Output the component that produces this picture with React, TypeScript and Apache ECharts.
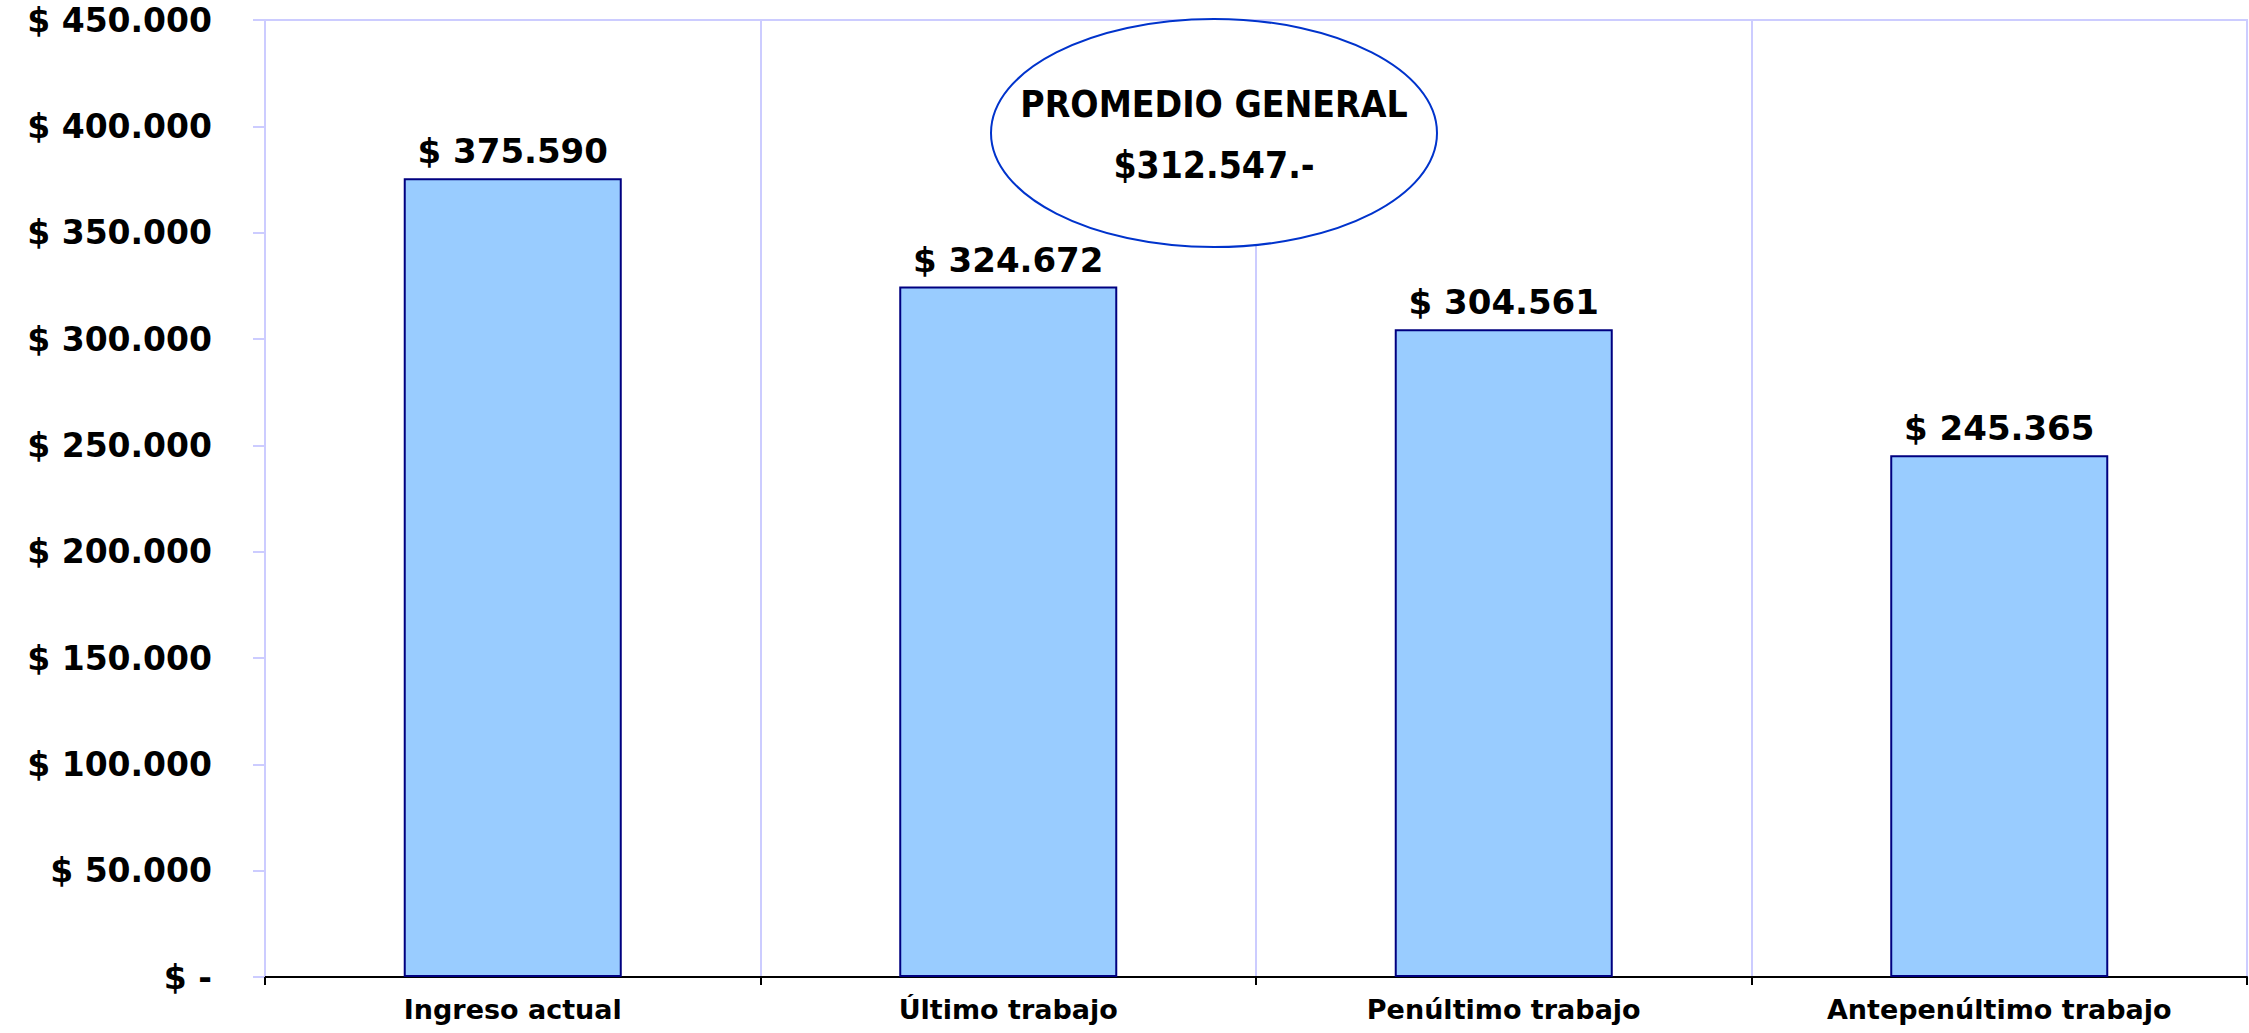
import React, { useEffect, useRef } from "react";
import * as echarts from "echarts";

const categories = ["Ingreso actual", "Último trabajo", "Penúltimo trabajo", "Antepenúltimo trabajo"];
const values = [375590, 324672, 304561, 245365];
const yMin = 0;
const yMax = 450000;
const yInterval = 50000;
const noteTitle = "PROMEDIO GENERAL";
const noteValue = "$312.547.-";

const fmt = (v: number) => {
  if (v === 0) return "$ -";
  return "$ " + String(Math.round(v)).replace(/\B(?=(\d{3})+(?!\d))/g, ".");
};

export default function App() {
  const ref = useRef<HTMLDivElement>(null);
  useEffect(() => {
    if (!ref.current) return;
    const chart = echarts.init(ref.current, null, { renderer: "svg" });
    const numFont = "'DejaVu Sans', Verdana, sans-serif";
    chart.setOption({
      animation: false,
      backgroundColor: "#ffffff",
      grid: {
        left: 265,
        right: 2,
        top: 20,
        bottom: 56,
        show: true,
        borderColor: "#ccccff",
        borderWidth: 2,
      },
      xAxis: {
        type: "category",
        data: categories,
        axisLine: { show: true, lineStyle: { color: "#000000", width: 2 } },
        axisTick: { show: true, length: 8, lineStyle: { color: "#000000", width: 2 } },
        splitLine: { show: true, lineStyle: { color: "#ccccff", width: 2 } },
        axisLabel: {
          color: "#000000",
          fontFamily: numFont,
          fontWeight: "bold",
          fontSize: 27,
          lineHeight: 28,
          margin: 18,
        },
      },
      yAxis: {
        type: "value",
        min: yMin,
        max: yMax,
        interval: yInterval,
        axisLine: { show: true, lineStyle: { color: "#ccccff", width: 2 } },
        axisTick: { show: true, length: 12, lineStyle: { color: "#ccccff", width: 2 } },
        splitLine: { show: false },
        axisLabel: {
          color: "#000000",
          fontFamily: numFont,
          fontWeight: "bold",
          fontSize: 33,
          lineHeight: 30,
          margin: 53,
          formatter: (v: number) => fmt(v),
        },
      },
      series: [
        {
          type: "bar",
          data: values,
          barWidth: "44%",
          itemStyle: { color: "#99ccff", borderColor: "#000080", borderWidth: 2 },
          label: {
            show: true,
            position: "top",
            distance: 10,
            color: "#000000",
            fontFamily: numFont,
            fontWeight: "bold",
            fontSize: 34,
            formatter: (p: any) => fmt(p.value),
          },
        },
      ],
      graphic: [
        {
          type: "ellipse",
          shape: { cx: 1214, cy: 133, rx: 223, ry: 114 },
          style: { fill: "#ffffff", stroke: "#0033cc", lineWidth: 2 },
          z: 100,
        },
        {
          type: "text",
          x: 1214,
          y: 104,
          style: {
            text: noteTitle,
            fill: "#000000",
            font: "bold 37px 'DejaVu Sans Condensed', 'DejaVu Sans', sans-serif",
            textAlign: "center",
            textVerticalAlign: "middle",
          },
          z: 101,
        },
        {
          type: "text",
          x: 1214,
          y: 165,
          style: {
            text: noteValue,
            fill: "#000000",
            font: "bold 37px 'DejaVu Sans Condensed', 'DejaVu Sans', sans-serif",
            textAlign: "center",
            textVerticalAlign: "middle",
          },
          z: 101,
        },
      ],
    });
    return () => chart.dispose();
  }, []);
  return (
    <div
      ref={ref}
      style={{ position: "fixed", left: 0, top: 0, width: 2249, height: 1033, background: "#fff" }}
    />
  );
}
